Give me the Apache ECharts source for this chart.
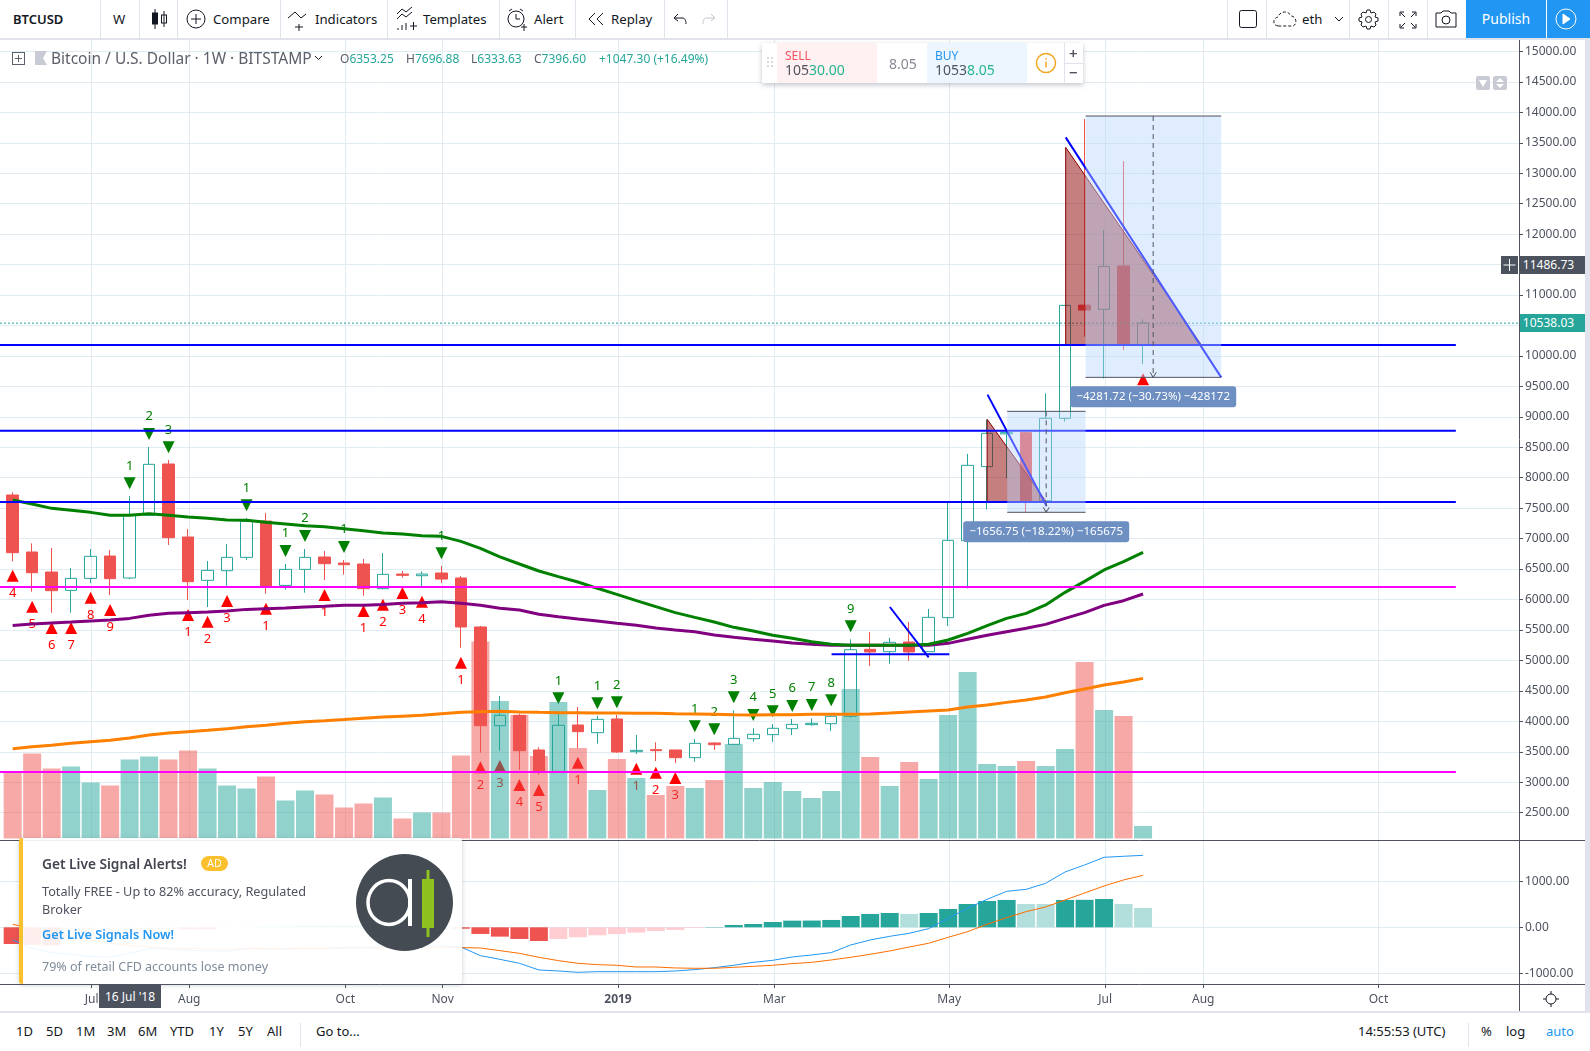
<!DOCTYPE html>
<html>
<head>
<meta charset="utf-8">
<title>BTCUSD</title>
<script src="https://cdn.jsdelivr.net/npm/echarts@6/dist/echarts.min.js"></script>
<style>
  html, body { margin: 0; padding: 0; background: #fff; overflow: hidden; }
  body { width: 1590px; height: 1051px; position: relative; font-family: "Noto Sans", sans-serif; color: #131722; }
  #chart { position: absolute; left: 0; top: 0; width: 1590px; height: 1051px; }
  .abs { position: absolute; white-space: nowrap; }
  .sep { position: absolute; background: #e0e3eb; }
  .axisline { position: absolute; background: #50535e; }
  #topbar { position: absolute; left: 0; top: 0; width: 1590px; height: 38px; background: #fff; border-bottom: 2px solid #e0e3eb; box-sizing: content-box; }
  #topbar .abs { font-size: 13.2px; line-height: 38px; top: 0; }
  #topbar svg, #bottombar svg { position: absolute; fill: none; stroke: #131722; stroke-width: 1; }
  #bottombar { position: absolute; left: 0; top: 1011px; width: 1590px; height: 38px; background: #fff; border-top: 2px solid #e0e3eb; border-bottom: 1px solid #e0e3eb; }
  #bottombar .abs { font-size: 13px; line-height: 36px; top: 0; }
  #legend { position: absolute; left: 0; top: 48px; height: 20px; }
  #legend .abs { top: 0; line-height: 20px; color: #5d606b; }
  #legend b { font-weight: 400; color: #26a69a; }
  #trade { position: absolute; left: 762px; top: 43px; width: 321px; height: 40px; background: #fff; box-shadow: 0 2px 5px rgba(80,90,110,.35); }
  #trade div, #trade svg { position: absolute; }
  #ad { position: absolute; left: 19px; top: 838px; width: 443px; height: 146px; background: rgba(255,255,255,.91); box-shadow: 0 1px 5px rgba(80,90,110,.3); border-radius: 3px; }
  #ad .abs { font-size: 12.7px; color: #50535e; }
  .tag { position: absolute; left: 1520px; width: 65px; height: 18px; line-height: 18px; color: #fff; font-size: 12px; text-align: center; }
</style>
</head>
<body>
<div id="chart"></div>

<div class="sep" style="left:1585px;top:39px;width:5px;height:1012px"></div>
<div class="axisline" style="left:1519px;top:840px;width:66px;height:1px"></div>
<div class="axisline" style="left:1519px;top:984px;width:66px;height:1px"></div>
<div class="axisline" style="left:1519px;top:984px;width:1px;height:27px"></div>

<div id="topbar">
  <div class="abs" style="left:13px;font-weight:600;font-size:13px">BTCUSD</div>
  <div class="abs" style="left:113px">W</div>
  <div class="abs" style="left:213px">Compare</div>
  <div class="abs" style="left:315px">Indicators</div>
  <div class="abs" style="left:423px">Templates</div>
  <div class="abs" style="left:534px">Alert</div>
  <div class="abs" style="left:611px">Replay</div>
  <div class="abs" style="left:1302px">eth</div>
  <div class="abs" style="left:1466px;width:80px;background:#2196f3;color:#fff;text-align:center;font-size:14px;height:38px">Publish</div>
  <div class="abs" style="left:1547px;width:43px;background:#2196f3;height:38px"></div>

  <svg style="left:151px;top:8px" width="18" height="22"><path d="M4 1v20M13 3v16"/><rect x="1.5" y="5" width="5" height="11" fill="#131722"/><rect x="10.5" y="7" width="5" height="8"/></svg>
  <svg style="left:186px;top:9px" width="20" height="20"><circle cx="10" cy="10" r="9"/><path d="M10 5v10M5 10h10"/></svg>
  <svg style="left:287px;top:10px" width="24" height="22"><path d="M1 8l7-6 6 6 5-4M12 14v7M8 17h8"/></svg>
  <svg style="left:396px;top:6px" width="24" height="28"><path d="M1 8l5-5 4 3 6-5M1 13l5-5 4 3 6-5"/><path d="M2 24v-2M6 24v-5M10 24v-7M14 20h7M17.500 16v8"/></svg>
  <svg style="left:506px;top:7px" width="22" height="26"><circle cx="10" cy="12" r="8"/><path d="M10 7v5h4M3 4l3-2M17 4l-3-2M15 20h6M18 17v7"/></svg>
  <svg style="left:587px;top:12px" width="18" height="15"><path d="M8 1l-6 6 6 6M16 1l-6 6 6 6"/></svg>
  <svg style="left:673px;top:12px" width="15" height="14"><path d="M5 2l-4 4 4 3M1 6h8c3 0 4 2 4 6"/></svg>
  <svg style="left:701px;top:12px;stroke:#c1c4cd" width="15" height="14"><path d="M10 2l4 4-4 3M14 6h-8c-3 0-4 2-4 6"/></svg>
  <svg style="left:1238px;top:9px" width="20" height="20"><rect x="1.500" y="1.500" width="17" height="17" rx="2"/></svg>
  <svg style="left:1273px;top:9px" width="26" height="20"><path d="M5 17c-6-1-5-8 0-9 2-6 10-7 13-1 5 0 7 8 2 10z" stroke-dasharray="3 2"/></svg>
  <svg style="left:1334px;top:16px" width="10" height="7"><path d="M1 1l4 4 4-4"/></svg>
  <svg style="left:1358px;top:9px" width="21" height="21"><circle cx="10.500" cy="10.500" r="3"/><path d="M9 1h3l1 3 3-1 2 2-1 3 3 1v3l-3 1 1 3-2 2-3-1-1 3H9l-1-3-3 1-2-2 1-3-3-1V9l3-1-1-3 2-2 3 1z"/></svg>
  <svg style="left:1399px;top:11px" width="18" height="18"><path d="M1 5V1h4M17 5V1h-4M1 13v4h4M17 13v4h-4M2 2l4 4M16 2l-4 4M2 16l4-4M16 16l-4-4"/></svg>
  <svg style="left:1435px;top:10px" width="22" height="18"><path d="M1 3h5l2-2h6l2 2h5v14H1z"/><circle cx="11" cy="10" r="4"/></svg>
  <svg style="left:1555px;top:8px;stroke:#fff" width="22" height="22"><circle cx="11" cy="11" r="10"/><path d="M8 6l7 5-7 5z" fill="#fff"/></svg>
  <div class="sep" style="left:100px;top:0;width:1px;height:38px"></div>
  <div class="sep" style="left:139px;top:0;width:1px;height:38px"></div>
  <div class="sep" style="left:177px;top:0;width:1px;height:38px"></div>
  <div class="sep" style="left:280px;top:0;width:1px;height:38px"></div>
  <div class="sep" style="left:387px;top:0;width:1px;height:38px"></div>
  <div class="sep" style="left:499px;top:0;width:1px;height:38px"></div>
  <div class="sep" style="left:575px;top:0;width:1px;height:38px"></div>
  <div class="sep" style="left:664px;top:0;width:1px;height:38px"></div>
  <div class="sep" style="left:727px;top:0;width:1px;height:38px"></div>
  <div class="sep" style="left:1227px;top:0;width:1px;height:38px"></div>
  <div class="sep" style="left:1266px;top:0;width:1px;height:38px"></div>
  <div class="sep" style="left:1349px;top:0;width:1px;height:38px"></div>
  <div class="sep" style="left:1388px;top:0;width:1px;height:38px"></div>
  <div class="sep" style="left:1427px;top:0;width:1px;height:38px"></div>
</div>

<div id="legend">
  <svg class="abs" style="left:12px;top:4px" width="13" height="13" fill="none" stroke="#5d606b"><rect x=".5" y=".5" width="12" height="12"/><path d="M6.500 3v7M3 6.500h7"/></svg>
  <svg class="abs" style="left:35px;top:3px" width="12" height="14"><path d="M0 0h12l-4 7 4 7H0z" fill="#c9cbd4"/></svg>
  <div class="abs" style="left:51px;font-size:15.5px">Bitcoin / U.S. Dollar · 1W · BITSTAMP</div>
  <svg class="abs" style="left:314px;top:7px" width="9" height="6" fill="none" stroke="#131722"><path d="M1 1l3.500 3.500L8 1"/></svg>
  <div class="abs" style="left:340px;font-size:12px;top:1px">O<b>6353.25</b></div>
  <div class="abs" style="left:406px;font-size:12px;top:1px">H<b>7696.88</b></div>
  <div class="abs" style="left:471px;font-size:12px;top:1px">L<b>6333.63</b></div>
  <div class="abs" style="left:534px;font-size:12px;top:1px">C<b>7396.60</b></div>
  <div class="abs" style="left:599px;font-size:12px;top:1px"><b>+1047.30 (+16.49%)</b></div>
</div>

<div id="trade">
  <svg style="left:5px;top:14px" width="7" height="12" fill="#d6d8de"><rect width="2" height="2"/><rect x="4" width="2" height="2"/><rect y="4" width="2" height="2"/><rect x="4" y="4" width="2" height="2"/><rect y="8" width="2" height="2"/><rect x="4" y="8" width="2" height="2"/></svg>
  <div style="left:15px;top:0;width:100px;height:40px;background:#fff0f2"></div>
  <div style="left:165px;top:0;width:100px;height:40px;background:#edf6fe"></div>
  <div style="left:23px;top:4px;font-size:12px;color:#f7525f">SELL</div>
  <div style="left:23px;top:17px;font-size:14px;color:#50535e">105<span style="color:#26b58f">30.00</span></div>
  <div style="left:127px;top:11px;font-size:14px;color:#868993">8.05</div>
  <div style="left:173px;top:4px;font-size:12px;color:#2196f3">BUY</div>
  <div style="left:173px;top:17px;font-size:14px;color:#50535e">1053<span style="color:#26b58f">8.05</span></div>
  <svg style="left:273px;top:9px" width="22" height="22" fill="none" stroke="#f5a623" stroke-width="1.500"><circle cx="11" cy="11" r="9.500"/><path d="M11 9.500v6M11 6v1.500"/></svg>
  <div style="left:302px;top:0;width:1px;height:40px;background:#e0e3eb"></div>
  <div style="left:302px;top:20px;width:19px;height:1px;background:#e0e3eb"></div>
  <div style="left:307px;top:0;font-size:15px;color:#50535e;font-weight:600">+</div>
  <div style="left:307px;top:19px;font-size:15px;color:#50535e;font-weight:600">−</div>
</div>

<svg class="abs" style="left:1476px;top:76px" width="34" height="14"><rect width="14" height="14" rx="2" fill="#c9cbd4"/><rect x="17" width="14" height="14" rx="2" fill="#c9cbd4"/><path d="M3 4h8l-4 7z" fill="#fff"/><path d="M20 6l4-4 4 4zM20 8l4 4 4-4z" fill="#fff"/></svg>

<div id="ad">
  <div class="abs" style="left:0;top:0;width:3.500px;height:146px;background:#fbc02d;border-radius:3px 0 0 3px"></div>
  <div class="abs" style="left:23px;top:16px;font-size:13.7px;font-weight:600;color:#434651">Get Live Signal Alerts!</div>
  <div class="abs" style="left:182px;top:18px;width:27px;height:15px;line-height:15px;border-radius:8px;background:#fbc02d;color:#fff;text-align:center;font-size:10.500px">AD</div>
  <div class="abs" style="left:23px;top:44px">Totally FREE - Up to 82% accuracy, Regulated</div>
  <div class="abs" style="left:23px;top:62px">Broker</div>
  <div class="abs" style="left:23px;top:87px;color:#2196f3;font-weight:600">Get Live Signals Now!</div>
  <div class="abs" style="left:23px;top:120px;color:#7f8c9a;font-size:12.5px">79% of retail CFD accounts lose money</div>
  <svg class="abs" style="left:337px;top:16px" width="97" height="97"><circle cx="48.500" cy="48.500" r="48.500" fill="#444b52"/><ellipse cx="33" cy="48.500" rx="21" ry="22" fill="none" stroke="#fff" stroke-width="3.500"/><rect x="52" y="25" width="4" height="47" fill="#fff"/><rect x="66" y="25" width="12" height="49" fill="#8dc21f"/><rect x="70.500" y="16" width="3" height="67" fill="#8dc21f"/></svg>
</div>

<div class="abs" style="left:99px;top:985px;width:62px;height:23px;line-height:23px;background:#4c525e;color:#fff;font-size:12px;text-align:center">16 Jul '18</div>

<div id="bottombar">
  <div class="abs" style="left:16px">1D</div>
  <div class="abs" style="left:46px">5D</div>
  <div class="abs" style="left:76px">1M</div>
  <div class="abs" style="left:107px">3M</div>
  <div class="abs" style="left:138px">6M</div>
  <div class="abs" style="left:170px">YTD</div>
  <div class="abs" style="left:209px">1Y</div>
  <div class="abs" style="left:238px">5Y</div>
  <div class="abs" style="left:267px">All</div>
  <div class="sep" style="left:300px;top:10px;width:1px;height:24px"></div>
  <div class="abs" style="left:316px">Go to...</div>
  <div class="abs" style="left:1358px">14:55:53 (UTC)</div>
  <div class="sep" style="left:1468px;top:10px;width:1px;height:24px"></div>
  <div class="abs" style="left:1481px">%</div>
  <div class="abs" style="left:1506px">log</div>
  <div class="abs" style="left:1546px;color:#2196f3">auto</div>
</div>
<svg class="abs" style="left:1542px;top:990px" width="18" height="18" fill="none" stroke="#131722"><circle cx="9" cy="9" r="5"/><path d="M9 1v3M9 14v3M1 9h3M14 9h3"/></svg>

<div id="tagCross" class="tag" style="background:#4c525e;text-indent:-8px">11486.73</div>
<div id="tagCrossPlus" class="abs" style="left:1501px;width:17px;height:18px;background:#4c525e"><svg width="17" height="18" fill="none" stroke="#fff"><path d="M8.500 3v12M2.500 9h12"/></svg></div>
<div id="tagLast" class="tag" style="background:#26a69a;text-indent:-8px">10538.03</div>

<script>
// weekly bars, index 0 = week of 4 Jun 2018
const opens = [7716,6780,6451,6150,6347,6714,6353.25,7382,8225,7026,6315,6473,6692,7289,6232,6495,6698,6599,6583,6178,6418,6391,6435,6353,5549,3928,4098,3529,3178,3939,3813,4038,3501,3534,3529,3403,3644,3622,3715,3781,3879,3945,3961,4082,5182,5143,5302,5143,5702,6966,8182,8720,8740,7623,8975,10835,10764,11476,10184];
const highs = [7760,6922,6846,6517,6829,6813,7696.88,8504,8291,7158,6632,6911,7338,7420,6583,6829,6796,6648,6665,6763,6468,6462,6550,6386,5565,4416,4120,3573,4164,4235,4087,4104,3775,3655,3529,3709,3655,4180,3885,3956,4038,4049,4131,5346,5466,5368,5631,5844,7590,8390,8950,8760,8756,9386,10830,13890,12067,13200,10600];
const lows = [6627,6128,5784,5784,6271,6074,6333.63,7382,6895,5992,5877,6227,6648,6096,6161,6112,6320,6408,6063,6167,6358,6200,6271,5209,3485,3518,3200,3124,3178,3556,3633,3480,3463,3348,3315,3337,3529,3622,3666,3660,3775,3928,3841,4060,4908,4946,4995,5143,5565,6183,7481,7990,7432,7580,8921,10315,9631,10096,9866];
const closes = [6769,6440,6145,6347,6709,6342,7396.6,8220,7015,6293,6479,6692,7283,6221,6495,6692,6588,6572,6178,6413,6397,6418,6336,5549,3928,4098,3518,3178,3934,3830,4032,3496,3523,3518,3403,3638,3616,3720,3786,3885,3950,3967,4082,5176,5138,5297,5138,5707,6972,8203,8729,8740,7607,8975,10830,10753,11470,10184,10538.03];
const volumes = [6700,8500,7000,7200,5600,5300,7900,8200,7900,8800,7000,5300,5000,6200,3800,4800,4400,3100,3500,4100,2000,2600,2600,8300,19700,13750,12350,8250,13650,9050,4850,7950,6050,4350,5250,5050,5850,9450,5050,5650,4750,4050,4750,14950,8150,5250,7650,5950,12350,16650,7450,7250,7750,7250,8950,17650,12850,12250,1250];

const maGreen = [7634,7568,7497,7464,7431,7382,7382,7409,7382,7355,7333,7305,7300,7267,7240,7212,7196,7163,7130,7092,7075,7048,7037,6955,6840,6700,6583,6468,6375,6288,6184,6085,5981,5883,5784,5707,5631,5543,5483,5412,5363,5308,5264,5248,5247,5247,5247,5264,5335,5445,5570,5691,5773,5910,6118,6298,6485,6621,6775];
const maPurple = [5575,5597,5614,5630,5647,5663,5690,5740,5773,5784,5795,5811,5838,5849,5860,5877,5888,5904,5904,5920,5937,5948,5964,5937,5904,5855,5828,5757,5718,5680,5647,5609,5576,5532,5499,5472,5417,5379,5346,5319,5286,5264,5248,5248,5247,5247,5247,5247,5280,5346,5412,5472,5527,5592,5691,5784,5904,5981,6090];
const maOrange = [3551,3584,3606,3638,3666,3688,3726,3775,3808,3830,3852,3879,3912,3934,3967,3994,4011,4030,4050,4070,4085,4100,4125,4150,4158,4164,4153,4147,4142,4142,4136,4136,4131,4131,4125,4120,4115,4109,4104,4109,4109,4115,4115,4114,4120,4136,4153,4169,4185,4235,4268,4311,4350,4399,4470,4530,4596,4645,4705];

const macdHist = [-361,-382,-397,-310,-240,-190,-130,-75,-35,-45,-48,-20,-5,15,20,25,30,35,40,35,30,25,10,-30,-144,-202,-252,-296,-252,-216,-173,-144,-115,-79,-58,-15,7,50,72,115,144,146,159,245,289,310,289,310,397,505,570,592,505,505,592,595,613,505,418];
const macdLine = [-274,-455,-548,-584,-635,-642,-563,-462,-476,-498,-512,-519,-455,-469,-469,-462,-455,-440,-433,-426,-418,-404,-397,-426,-613,-693,-779,-923,-945,-974,-960,-960,-960,-960,-945,-916,-873,-822,-758,-714,-642,-599,-548,-382,-274,-195,-130,-29,195,411,606,779,822,952,1198,1349,1515,1537,1558];
const macdSignal = [65,-22,-108,-202,-274,-346,-390,-426,-447,-462,-469,-476,-462,-462,-462,-455,-455,-447,-447,-447,-440,-440,-440,-440,-447,-505,-563,-649,-721,-779,-808,-822,-859,-859,-880,-887,-887,-866,-844,-822,-786,-758,-707,-649,-584,-512,-426,-346,-216,-94,65,209,339,440,592,743,895,1025,1126];

// sequential count markers: week index, price, number
const buySignals = [[0,6391,4],[1,5882,5],[2,5532,6],[3,5532,7],[4,6030,8],[5,5827,9],[9,5745,1],[10,5636,2],[11,5975,3],[13,5849,1],[16,6074,1],[18,5811,1],[19,5915,2],[20,6107,3],[21,5964,4],[23,4963,1],[24,3244,2],[25,3266,3],[26,2954,4],[27,2872,5],[29,3321,1],[32,3222,1],[33,3157,2],[34,3069,3],[58,9615,'']];
const sellSignals = [[6,7908,1],[7,8718,2],[8,8499,3],[12,7546,1],[14,6796,1],[15,7043,2],[17,6862,1],[22,6758,1],[28,4377,1],[30,4295,1],[31,4312,2],[35,3917,1],[36,3868,2],[37,4394,3],[38,4104,4],[39,4164,5],[40,4251,6],[41,4268,7],[42,4344,8],[43,5560,9]];

const priceTicks = [2500,3000,3500,4000,4500,5000,5500,6000,6500,7000,7500,8000,8500,9000,9500,10000,10500,11000,11500,12000,12500,13000,13500,14000,14500,15000];
const macdTicks = [-1000,0,1000];
const monthTicks = [4.05,9.06,17.07,22.06,31.06,39.08,48.05,56.06,61.09,70.08];
const monthLabels = ['Jul','Aug','Oct','Nov','2019','Mar','May','Jul','Aug','Oct'];

// drawings on the price pane
const blueLevels = [10179,8772,7601];
const magentaLevels = [6206,3168];
const levelEnd = 74.05;
const lastPrice = 10538.03;
const crossPrice = 11486.73;
const trendLines = [[54.03,13589,62.01,9648],[50.02,9364,53.05,7536],[45.01,5877,47,5050],[42.02,5100,48.06,5100]];
const wedges = [[54.03,13425,61,10179],[50,8959,53.05,7601]];
const positionBoxes = [[55.05,62.01,13939,9648,58.52],[51.03,55.05,9090,7432,53.03]];
const positionTexts = ['−4281.72 (−30.73%) −428172','−1656.75 (−18.22%) −165675'];

const X_MIN = -0.65, X_MAX = 77.29;
const UP = '#26a69a', DOWN = '#ef5350', GRID = '#e1ecf2', AXIS = '#50535e', TEXT = '#4c525e';
const FONT = '"Noto Sans", sans-serif';

const xBase = {
    type: 'value', min: X_MIN, max: X_MAX,
    axisTick: { show: false, customValues: monthTicks },
    axisLabel: { show: false, customValues: monthTicks },
    splitLine: { show: true, lineStyle: { color: GRID, width: 1 } },
    axisLine: { show: true, onZero: false, lineStyle: { color: AXIS } }
};
const levelLine = (y, color, z) => ({
    type: 'line', xAxisIndex: 0, yAxisIndex: 0, z: z, symbol: 'none', silent: true,
    data: [[X_MIN, y], [levelEnd, y]], lineStyle: { color: color, width: 2 }
});
const maLine = (values, color) => ({
    type: 'line', xAxisIndex: 0, yAxisIndex: 0, z: 4, symbol: 'none', silent: true,
    data: values.map((v, i) => [i, v]), lineStyle: { color: color, width: 3 }
});
const signalSeries = (points, color, rotate, pos) => ({
    type: 'scatter', xAxisIndex: 0, yAxisIndex: 0, z: 1, silent: true,
    symbol: 'triangle', symbolSize: 12, symbolRotate: rotate,
    itemStyle: { color: color, opacity: 1 }, data: points,
    label: { show: true, position: pos, distance: 5, color: color, fontFamily: FONT, fontSize: 13, formatter: p => p.value[2] }
});

const series = [
    signalSeries(buySignals, '#ff0000', 0, 'bottom'),
    signalSeries(sellSignals, '#008000', 180, 'top'),
    {
        type: 'bar', xAxisIndex: 0, yAxisIndex: 1, z: 2, silent: true, barWidth: 18,
        data: volumes.map((v, i) => ({
            value: [i, v],
            itemStyle: { color: closes[i] >= opens[i] ? 'rgba(38,166,154,.5)' : 'rgba(239,83,80,.5)' }
        }))
    },
    {
        type: 'candlestick', xAxisIndex: 0, yAxisIndex: 0, z: 3, silent: true, barWidth: 12,
        data: opens.map((o, i) => [i, o, closes[i], lows[i], highs[i]]),
        itemStyle: { color: 'transparent', color0: DOWN, borderColor: UP, borderColor0: DOWN, borderWidth: 1 }
    },
    maLine(maOrange, '#ff8000'),
    maLine(maPurple, '#800080'),
    maLine(maGreen, '#008000'),
    {
        type: 'line', xAxisIndex: 0, yAxisIndex: 0, z: 4, symbol: 'none', silent: true,
        data: [[X_MIN, lastPrice], [X_MAX, lastPrice]], lineStyle: { color: UP, width: 1, type: [2, 2] }
    },
    {
        // red wedges behind the falling trend lines
        type: 'custom', xAxisIndex: 0, yAxisIndex: 0, z: 6, silent: true,
        data: wedges.map(w => [w[0], w[1]]),
        renderItem: (params, api) => {
            const w = wedges[params.dataIndex];
            return {
                type: 'polygon',
                shape: { points: [api.coord([w[0], w[1]]), api.coord([w[0], w[3]]), api.coord([w[2], w[3]])] },
                style: { fill: 'rgba(139,0,0,.5)', stroke: '#8b0000', lineWidth: 1 }
            };
        }
    },
    {
        // position boxes sit on top of candles, wedges and trend lines
        type: 'custom', xAxisIndex: 0, yAxisIndex: 0, z: 8, silent: true,
        data: positionBoxes.map(b => [b[0], b[2]]),
        renderItem: (params, api) => {
            const b = positionBoxes[params.dataIndex];
            const tl = api.coord([b[0], b[2]]), br = api.coord([b[1], b[3]]);
            const midX = api.coord([b[4], b[3]])[0];
            const lineStyle = { stroke: AXIS, lineWidth: 1 };
            return {
                type: 'group', children: [
                    { type: 'rect', shape: { x: tl[0], y: tl[1], width: br[0] - tl[0], height: br[1] - tl[1] }, style: { fill: 'rgba(184,214,253,.43)' } },
                    { type: 'line', shape: { x1: tl[0], y1: tl[1], x2: br[0], y2: tl[1] }, style: lineStyle },
                    { type: 'line', shape: { x1: tl[0], y1: br[1], x2: br[0], y2: br[1] }, style: lineStyle },
                    { type: 'line', shape: { x1: midX, y1: tl[1], x2: midX, y2: br[1] }, style: { stroke: AXIS, lineWidth: 1, lineDash: [5, 4] } },
                    { type: 'polyline', shape: { points: [[midX - 3, br[1] - 5], [midX, br[1]], [midX + 3, br[1] - 5]] }, style: { stroke: AXIS, lineWidth: 1, fill: 'none' } },
                    { type: 'rect', z2: 10, shape: { x: midX - 83, y: br[1] + 9, width: 166, height: 21, r: 3 }, style: { fill: '#6d8fc2' } },
                    { type: 'text', z2: 11, style: { x: midX, y: br[1] + 19.5, text: positionTexts[params.dataIndex], align: 'center', verticalAlign: 'middle', fill: '#fff', font: '11.5px ' + FONT } }
                ]
            };
        }
    }
];
magentaLevels.forEach(y => series.push(levelLine(y, '#ff00ff', 7)));
blueLevels.forEach(y => series.push(levelLine(y, '#0000ff', 7)));
trendLines.forEach(t => series.push({
    type: 'line', xAxisIndex: 0, yAxisIndex: 0, z: 7, symbol: 'none', silent: true,
    data: [[t[0], t[1]], [t[2], t[3]]], lineStyle: { color: '#0000ff', width: 2 }
}));

// macd pane
series.push(
    {
        type: 'bar', xAxisIndex: 1, yAxisIndex: 2, z: 2, silent: true, barWidth: 18,
        data: macdHist.map((v, i) => {
            const prev = i ? macdHist[i - 1] : v;
            let color;
            if (v < 0) color = v <= prev ? DOWN : '#ffcdd2';
            else color = v > prev ? UP : '#b2dfdb';
            return { value: [i, v], itemStyle: { color: color } };
        })
    },
    {
        type: 'line', xAxisIndex: 1, yAxisIndex: 2, z: 3, symbol: 'none', silent: true,
        data: macdLine.map((v, i) => [i, v]), lineStyle: { color: '#2196f3', width: 1 }
    },
    {
        type: 'line', xAxisIndex: 1, yAxisIndex: 2, z: 3, symbol: 'none', silent: true,
        data: macdSignal.map((v, i) => [i, v]), lineStyle: { color: '#ff6d00', width: 1 }
    }
);

const chart = echarts.init(document.getElementById('chart'));
chart.setOption({
    animation: false,
    grid: [
        { left: 0, top: 39, width: 1519, height: 801 },
        { left: 0, top: 841, width: 1519, height: 143 }
    ],
    xAxis: [
        xBase,
        Object.assign({}, xBase, {
            gridIndex: 1,
            axisTick: { show: true, length: 4, customValues: monthTicks, lineStyle: { color: AXIS } },
            axisLabel: {
                show: true, customValues: monthTicks, margin: 10, color: TEXT, fontFamily: FONT, fontSize: 12,
                formatter: v => {
                    const s = monthLabels[monthTicks.indexOf(v)];
                    return s === '2019' ? '{b|' + s + '}' : s;
                },
                rich: { b: { fontWeight: 'bold', color: TEXT, fontFamily: FONT, fontSize: 12 } }
            }
        })
    ],
    yAxis: [
        {
            type: 'value', position: 'right', min: 2051, max: 15204,
            axisLine: { show: true, onZero: false, lineStyle: { color: AXIS } },
            axisTick: { show: true, length: 4, customValues: priceTicks, lineStyle: { color: AXIS } },
            axisLabel: { customValues: priceTicks, margin: 6, color: TEXT, fontFamily: FONT, fontSize: 12, formatter: v => v.toFixed(2) },
            splitLine: { show: true, lineStyle: { color: GRID, width: 1 } }
        },
        { type: 'value', min: -150, max: 79950, show: false, splitLine: { show: false } },
        {
            type: 'value', gridIndex: 1, position: 'right', min: -1227, max: 1868,
            axisLine: { show: true, onZero: false, lineStyle: { color: AXIS } },
            axisTick: { show: true, length: 4, customValues: macdTicks, lineStyle: { color: AXIS } },
            axisLabel: { customValues: macdTicks, margin: 6, color: TEXT, fontFamily: FONT, fontSize: 12, formatter: v => v.toFixed(2) },
            splitLine: { show: true, lineStyle: { color: GRID, width: 1 } }
        }
    ],
    series: series
});

function placeTag(id, price) {
    const y = chart.convertToPixel({ yAxisIndex: 0 }, price);
    document.getElementById(id).style.top = (y - 9) + 'px';
}
placeTag('tagCross', crossPrice);
placeTag('tagCrossPlus', crossPrice);
placeTag('tagLast', lastPrice);
</script>
</body>
</html>
